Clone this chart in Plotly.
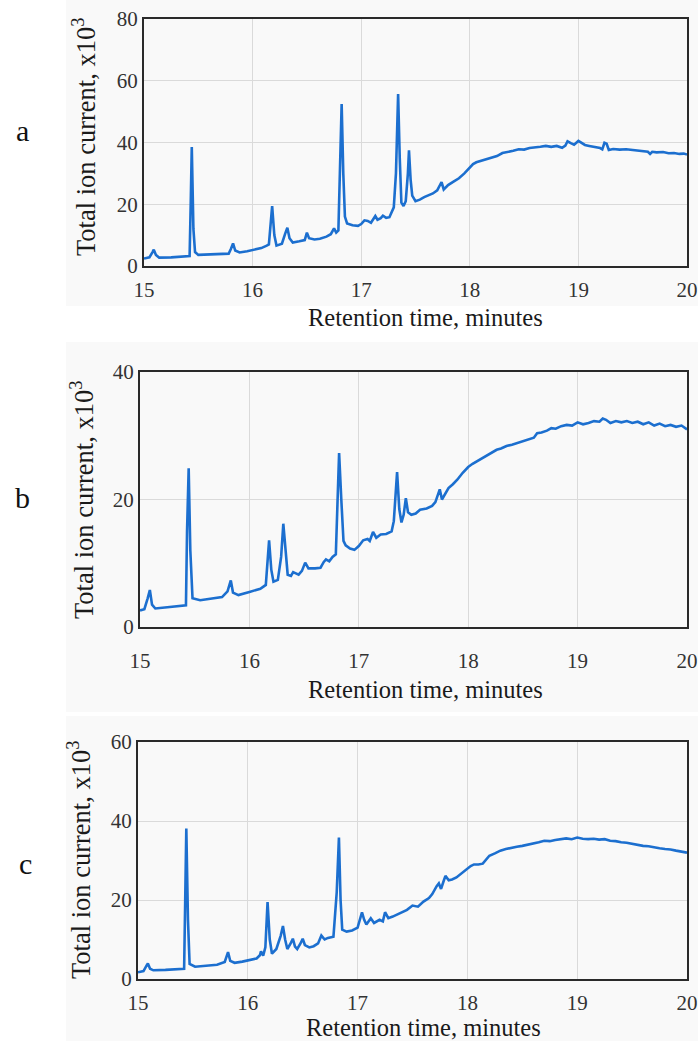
import plotly.graph_objects as go

# ---------------- data ----------------
x_ticks = [15, 16, 17, 18, 19, 20]
panel_labels = ["a", "b", "c"]
y_ranges = [[0, 80], [0, 40], [0, 60]]
x_title = "Retention time, minutes"
y_title = "Total ion current, x10<sup>3</sup>"

trace_a = [(15.00,2.4),(15.05,2.8),(15.08,4.6),(15.09,5.3),(15.11,3.6),(15.14,2.7),(15.25,2.8),(15.35,3.0),
(15.42,3.2),(15.43,20),(15.44,38.5),(15.455,12),(15.47,4.5),(15.50,3.6),(15.60,3.7),(15.70,3.8),(15.78,4.0),
(15.80,5.5),(15.82,7.3),(15.84,5.0),(15.88,4.4),(15.95,4.8),(16.00,5.2),(16.08,5.8),(16.13,6.6),(16.15,7.0),
(16.18,19.4),(16.20,10),(16.22,6.6),(16.27,7.2),(16.30,10.5),(16.32,12.4),(16.34,9),(16.37,7.6),(16.43,8.0),
(16.48,8.4),(16.50,10.8),(16.52,9.0),(16.57,8.6),(16.62,8.8),(16.68,9.5),(16.72,10.3),(16.75,12.2),(16.77,10.8),
(16.79,11.5),(16.81,35),(16.82,52.5),(16.835,30),(16.85,16),(16.87,13.8),(16.92,13.2),(16.97,13.0),(17.00,13.6),
(17.03,14.8),(17.06,14.6),(17.09,14.0),(17.11,15.0),(17.13,16.2),(17.15,15.0),(17.18,15.5),(17.20,16.3),
(17.23,15.6),(17.26,15.8),(17.28,17.5),(17.30,19.0),(17.32,30),(17.34,55.7),(17.355,35),(17.37,20.5),
(17.39,19.4),(17.41,21.0),(17.43,30),(17.44,37.5),(17.455,28),(17.47,22.8),(17.50,21.0),(17.54,21.5),
(17.58,22.3),(17.62,22.8),(17.66,23.5),(17.70,24.5),(17.74,27.2),(17.76,24.8),(17.80,26.2),(17.85,27.3),
(17.90,28.4),(17.95,30.0),(18.00,31.8),(18.03,33.0),(18.06,33.6),(18.10,34.0),(18.15,34.6),(18.20,35.2),
(18.25,35.6),(18.30,36.6),(18.35,36.9),(18.40,37.3),(18.45,37.8),(18.50,37.7),(18.55,38.2),(18.60,38.3),
(18.65,38.6),(18.70,38.9),(18.75,38.6),(18.80,38.9),(18.85,38.3),(18.88,39.0),(18.90,40.4),(18.93,39.8),
(18.96,39.3),(19.00,40.5),(19.03,39.9),(19.06,39.2),(19.10,38.9),(19.15,38.6),(19.20,38.2),(19.22,37.8),
(19.24,39.9),(19.26,39.6),(19.28,37.6),(19.32,37.9),(19.38,37.7),(19.44,37.8),(19.50,37.6),(19.55,37.4),
(19.60,37.3),(19.64,37.0),(19.66,36.3),(19.68,37.0),(19.72,36.8),(19.78,36.9),(19.83,36.5),(19.88,36.6),
(19.93,36.3),(19.97,36.4),(20.00,36.1)]

trace_b = [(15.00,2.6),(15.04,2.8),(15.07,4.5),(15.09,5.8),(15.11,3.5),(15.14,2.9),(15.25,3.1),(15.35,3.3),
(15.42,3.4),(15.43,15),(15.445,24.9),(15.46,12),(15.48,4.5),(15.55,4.2),(15.65,4.4),(15.75,4.7),(15.80,5.6),
(15.83,7.3),(15.85,5.4),(15.90,5.0),(16.00,5.5),(16.10,6.0),(16.15,6.6),(16.17,11),(16.18,13.6),(16.20,9),
(16.22,7.1),(16.26,7.4),(16.29,11),(16.31,16.2),(16.33,12),(16.35,8.2),(16.38,8.0),(16.40,8.6),(16.45,8.2),
(16.48,8.8),(16.51,10.1),(16.54,9.2),(16.60,9.2),(16.65,9.3),(16.68,10.2),(16.70,10.6),(16.73,10.3),
(16.76,11.0),(16.79,11.4),(16.81,20),(16.82,27.3),(16.84,20),(16.86,13.5),(16.88,12.8),(16.92,12.3),
(16.96,12.1),(17.00,12.7),(17.04,13.6),(17.08,13.8),(17.10,13.5),(17.13,14.9),(17.16,14.0),(17.20,14.5),
(17.25,14.6),(17.30,15.0),(17.32,16.6),(17.35,24.3),(17.37,18.5),(17.39,16.4),(17.41,17.6),(17.43,20.2),
(17.45,18.0),(17.48,17.6),(17.52,17.8),(17.56,18.4),(17.62,18.6),(17.67,19.0),(17.70,19.6),(17.74,21.6),
(17.76,20.0),(17.79,21.0),(17.82,21.8),(17.86,22.4),(17.90,23.1),(17.95,24.2),(18.00,25.1),(18.04,25.6),
(18.07,25.9),(18.10,26.3),(18.14,26.6),(18.18,27.0),(18.22,27.4),(18.26,27.8),(18.30,28.0),(18.35,28.4),
(18.40,28.6),(18.45,28.9),(18.50,29.2),(18.55,29.5),(18.60,29.7),(18.63,30.4),(18.67,30.5),(18.72,30.8),
(18.76,31.2),(18.80,31.1),(18.85,31.5),(18.90,31.7),(18.95,31.6),(19.00,32.1),(19.05,31.8),(19.10,32.0),
(19.15,32.3),(19.20,32.2),(19.23,32.7),(19.26,32.5),(19.30,32.0),(19.35,32.3),(19.40,32.1),(19.45,32.3),
(19.50,32.0),(19.55,32.2),(19.60,31.8),(19.65,32.1),(19.70,31.6),(19.75,31.9),(19.80,31.5),(19.85,31.7),
(19.90,31.4),(19.95,31.6),(20.00,31.0)]

trace_c = [(15.00,1.7),(15.05,2.0),(15.08,3.5),(15.09,3.9),(15.11,2.6),(15.14,2.2),(15.25,2.3),(15.35,2.4),
(15.42,2.6),(15.43,20),(15.44,38.1),(15.455,15),(15.47,3.8),(15.52,3.1),(15.62,3.3),(15.72,3.6),(15.79,4.3),
(15.82,6.8),(15.84,4.6),(15.88,4.1),(15.95,4.4),(16.02,4.8),(16.08,5.2),(16.11,6.0),(16.12,7.0),(16.14,5.9),
(16.16,8),(16.18,19.5),(16.20,10),(16.22,6.4),(16.26,7.6),(16.30,11),(16.32,13.4),(16.34,10),(16.36,7.6),
(16.39,9),(16.41,10.2),(16.43,8.2),(16.45,7.6),(16.48,9.0),(16.50,10.2),(16.52,8.6),(16.56,8.0),(16.60,8.3),
(16.64,9.0),(16.67,11.0),(16.70,10.0),(16.73,10.4),(16.78,10.7),(16.81,22),(16.83,35.8),(16.845,20),
(16.86,12.5),(16.90,12.0),(16.95,12.3),(17.00,13.0),(17.02,15.0),(17.04,16.9),(17.06,15.0),(17.08,13.8),
(17.12,15.4),(17.15,14.2),(17.20,15.0),(17.23,14.6),(17.25,16.9),(17.28,15.4),(17.32,15.8),(17.36,16.3),
(17.40,16.9),(17.45,17.5),(17.50,18.6),(17.55,18.3),(17.60,19.6),(17.65,20.5),(17.68,21.5),(17.70,22.7),
(17.72,23.5),(17.74,24.2),(17.76,22.8),(17.78,24.5),(17.80,26.1),(17.83,25.0),(17.86,25.2),(17.90,25.7),
(17.95,26.8),(18.00,27.8),(18.03,28.6),(18.06,29.0),(18.10,29.0),(18.14,29.2),(18.17,30.3),(18.20,31.2),
(18.25,31.8),(18.30,32.5),(18.35,32.9),(18.40,33.3),(18.45,33.5),(18.50,33.7),(18.55,34.0),(18.60,34.2),
(18.65,34.6),(18.70,35.0),(18.75,34.9),(18.80,35.2),(18.85,35.4),(18.90,35.6),(18.95,35.4),(19.00,35.8),
(19.05,35.5),(19.10,35.4),(19.15,35.5),(19.20,35.3),(19.25,35.4),(19.30,35.0),(19.35,34.9),(19.40,34.6),
(19.45,34.5),(19.50,34.2),(19.55,34.0),(19.60,33.7),(19.65,33.6),(19.70,33.3),(19.75,33.1),(19.80,32.9),
(19.85,32.8),(19.90,32.5),(19.95,32.2),(20.00,32.0)]

traces = [trace_a, trace_b, trace_c]

# ---------------- layout (pixel geometry of the 698x1041 page) ----------------
W, H = 698, 1041
# plot boxes in page pixels: (left, right, top, bottom)
boxes = [(144, 687, 19, 266), (140, 687, 372, 627), (138, 687, 742, 979)]
# light backdrop regions in page pixels: (x0, x1, y0, y1)
backs = [(66, 698, 0, 306), (66, 698, 342, 712), (66, 698, 716, 1041)]
label_pos = [(22, 130), (22, 497), (25, 863)]
xtitle_pos = [(425, 317), (425, 689), (423, 1027)]
ytitle_pos = [(84, 137), (82, 500), (79, 860)]
xlabel_standoff = [4, 14, 4]


def fx(px):
    return px / W


def fy(py):
    return 1 - py / H


FONT = "Liberation Serif"
LINE_COLOR = "#1c6fcf"
TICK_SIZE = 21
XTITLE_SIZE = 24.5
YTITLE_SIZE = 26.5

fig = go.Figure()
layout = dict(
    width=W, height=H, autosize=False,
    margin=dict(l=0, r=0, t=0, b=0, pad=0, autoexpand=False),
    paper_bgcolor="white", plot_bgcolor="white",
    showlegend=False,
    font=dict(family=FONT, color="#222", size=TICK_SIZE),
)
shapes = []
annotations = []

for i, (tr, box, yr) in enumerate(zip(traces, boxes, y_ranges)):
    n = "" if i == 0 else str(i + 1)
    t = [p[0] for p in tr]
    v = [p[1] for p in tr]
    fig.add_trace(go.Scatter(x=t, y=v, mode="lines", xaxis="x" + n, yaxis="y" + n,
                             line=dict(color=LINE_COLOR, width=2.6), hoverinfo="skip"))
    l, r, tp, bt = box
    layout["xaxis" + n] = dict(
        domain=[fx(l), fx(r)], anchor="y" + n, range=[15, 20],
        tickvals=x_ticks, ticktext=[str(k) for k in x_ticks],
        showgrid=True, gridcolor="#dadada", gridwidth=1,
        showline=True, linecolor="#2a2a2a", linewidth=2, mirror=True,
        ticks="", zeroline=False, automargin=False,
        ticklabeloverflow="allow", ticklabelstandoff=xlabel_standoff[i],
        tickfont=dict(family=FONT, size=TICK_SIZE, color="#333"),
    )
    layout["yaxis" + n] = dict(
        domain=[fy(bt), fy(tp)], anchor="x" + n, range=yr, dtick=20,
        showgrid=True, gridcolor="#dadada", gridwidth=1,
        showline=True, linecolor="#2a2a2a", linewidth=2, mirror=True,
        ticks="", zeroline=False, automargin=False,
        ticklabeloverflow="allow",
        tickfont=dict(family=FONT, size=TICK_SIZE, color="#333"),
    )
    bx0, bx1, by0, by1 = backs[i]
    shapes.append(dict(type="rect", xref="paper", yref="paper", layer="below",
                       x0=fx(bx0), x1=fx(bx1), y0=fy(by1), y1=fy(by0),
                       fillcolor="#f9f9f9", line=dict(width=0)))
    lx, ly = label_pos[i]
    annotations.append(dict(text=panel_labels[i], xref="paper", yref="paper",
                            x=fx(lx), y=fy(ly), showarrow=False,
                            xanchor="center", yanchor="middle",
                            font=dict(family=FONT, size=30, color="#111")))
    tx, ty = xtitle_pos[i]
    annotations.append(dict(text=x_title, xref="paper", yref="paper",
                            x=fx(tx), y=fy(ty), showarrow=False,
                            xanchor="center", yanchor="middle",
                            font=dict(family=FONT, size=XTITLE_SIZE, color="#1a1a1a")))
    yx, yy = ytitle_pos[i]
    annotations.append(dict(text=y_title, xref="paper", yref="paper",
                            x=fx(yx), y=fy(yy), showarrow=False, textangle=-90,
                            xanchor="center", yanchor="middle",
                            font=dict(family=FONT, size=YTITLE_SIZE, color="#1a1a1a")))

layout["shapes"] = shapes
layout["annotations"] = annotations
fig.update_layout(**layout)
# remove the default page margin so the 698x1041 figure fills the window exactly
fig.write_html("out.html",
               config={"displayModeBar": False},
               post_script="document.body.style.margin='0';document.body.style.overflow='hidden';")
